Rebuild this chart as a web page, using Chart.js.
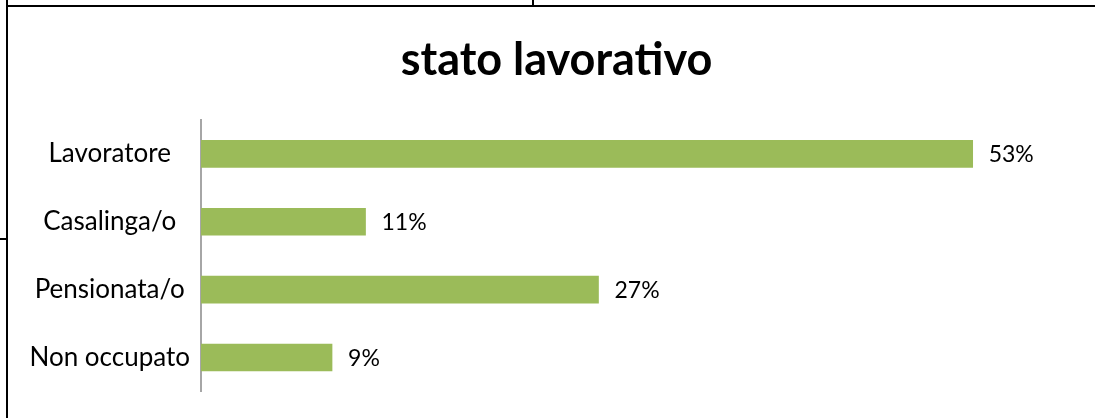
<!DOCTYPE html>
<html>
<head>
<meta charset="utf-8">
<script src="https://cdn.jsdelivr.net/npm/chart.js@4"></script>
<style>
  html, body { margin: 0; padding: 0; background: #fff; }
  #wrap { position: relative; width: 1095px; height: 418px; overflow: hidden; }
  canvas { position: absolute; left: 0; top: 0; }
  .ln { position: absolute; background: #000; }
</style>
</head>
<body>
<div id="wrap">
  <canvas id="statoChart" width="1095" height="418"></canvas>
  <!-- cell borders around the chart -->
  <div class="ln" style="left:6px; top:5px; width:1089px; height:2px;"></div>
  <div class="ln" style="left:6px; top:0; width:2px; height:418px;"></div>
  <div class="ln" style="left:532px; top:0; width:2px; height:6px;"></div>
  <div class="ln" style="left:0; top:238px; width:7px; height:2px;"></div>
</div>
<script>
const categories = ['Lavoratore', 'Casalinga/o', 'Pensionata/o', 'Non occupato'];
const percentages = [53, 11.3, 27.3, 9];
const axisMax = 61.4;
const barColor = '#9BBB59';

// writes "53%" etc to the right of each bar
const valueLabels = {
  id: 'valueLabels',
  afterDatasetsDraw(chart) {
    const ctx = chart.ctx;
    const meta = chart.getDatasetMeta(0);
    ctx.save();
    ctx.font = '23px Lato';
    ctx.fillStyle = '#000';
    ctx.textAlign = 'left';
    ctx.textBaseline = 'middle';
    meta.data.forEach((bar, i) => {
      ctx.fillText(Math.round(percentages[i]) + '%', bar.x + 16, bar.y + 1);
    });
    ctx.restore();
  }
};

const ctx = document.getElementById('statoChart').getContext('2d');
new Chart(ctx, {
  type: 'bar',
  data: {
    labels: categories,
    datasets: [{
      data: percentages,
      backgroundColor: barColor,
      barThickness: 27,
    }],
  },
  options: {
    indexAxis: 'y',
    responsive: false,
    animation: false,
    layout: { padding: { left: 18, right: 0, top: 0, bottom: 20 } },
    plugins: {
      legend: { display: false },
      tooltip: { enabled: false },
      title: {
        display: true,
        text: 'stato lavorativo',
        color: '#000',
        font: { family: 'Lato', size: 45, weight: 'bold', lineHeight: 1.2 },
        padding: { top: 33, bottom: 33 },
      },
    },
    scales: {
      x: {
        display: false,
        min: 0,
        max: axisMax,
      },
      y: {
        grid: { display: false, drawTicks: false },
        border: { display: true, color: '#a6a6a6', width: 2 },
        ticks: {
          color: '#000',
          font: { family: 'Lato', size: 26 },
          crossAlign: 'center',
          padding: 11,
        },
        afterFit(scale) { scale.width = 183; },
      },
    },
  },
  plugins: [valueLabels],
});
</script>
</body>
</html>
